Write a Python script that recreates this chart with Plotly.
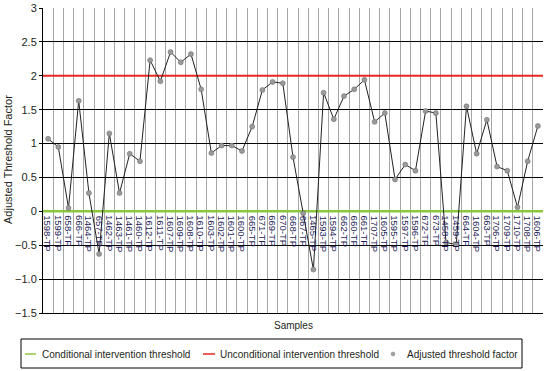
import plotly.graph_objects as go

samples = ["1598-TP", "1599-TP", "658-TP", "666-TP", "1464-TP", "657-TP", "1462-TP", "1463-TP",
           "1461-TP", "1460-TP", "1612-TP", "1611-TP", "1607-TP", "1609-TP", "1608-TP", "1610-TP",
           "1603-TP", "1602-TP", "1601-TP", "1600-TP", "665-TP", "671-TP", "669-TP", "670-TP",
           "668-TP", "667-TP", "1465-TP", "1593-TP", "1594-TP", "662-TP", "660-TP", "661-TP",
           "1707-TP", "1605-TP", "1595-TP", "1597-TP", "1596-TP", "672-TP", "673-TP", "1458-TP",
           "1459-TP", "664-TP", "1604-TP", "663-TP", "1706-TP", "1709-TP", "1710-TP", "1708-TP",
           "1606-TP"]
factor = [1.07, 0.95, 0.05, 1.63, 0.27, -0.63, 1.15, 0.27,
          0.85, 0.74, 2.23, 1.92, 2.35, 2.20, 2.32, 1.80,
          0.86, 0.97, 0.97, 0.89, 1.25, 1.79, 1.91, 1.89,
          0.80, -0.03, -0.86, 1.75, 1.36, 1.70, 1.80, 1.94,
          1.32, 1.45, 0.47, 0.69, 0.60, 1.48, 1.45, -0.46,
          -0.49, 1.55, 0.85, 1.35, 0.66, 0.60, 0.06, 0.74,
          1.26]
conditional_threshold = 0
unconditional_threshold = 2
ytick_vals = [-1.5, -1.0, -0.5, 0, 0.5, 1, 1.5, 2, 2.5, 3]
ytick_text = ["\u22121.5", "\u22121.0", "\u22120.5", "0", "0.5", "1", "1.5", "2", "2.5", "3"]

GREEN = "#8cc63f"
RED = "#e8271e"
FONT = "Liberation Sans, Arial, sans-serif"
TXT = "#231f20"

W, H = 546, 371
L, R, T, B = 43, 3, 8, 58
PW, PH = W - L - R, H - T - B


def px(xp):
    return (xp - L) / PW


def py(yp):
    return (H - B - yp) / PH


idx = list(range(len(samples)))
x_lo, x_hi = idx[0] - 0.5, idx[-1] + 0.5

fig = go.Figure()
fig.add_trace(go.Scatter(x=[x_lo, x_hi], y=[conditional_threshold] * 2, mode="lines",
                         line=dict(color=GREEN, width=2.5),
                         name="Conditional intervention threshold"))
fig.add_trace(go.Scatter(x=[x_lo, x_hi], y=[unconditional_threshold] * 2, mode="lines",
                         line=dict(color=RED, width=2),
                         name="Unconditional intervention threshold"))
fig.add_trace(go.Scatter(x=idx, y=factor, mode="lines", line=dict(color="#222222", width=1),
                         showlegend=False, hoverinfo="skip"))
fig.add_trace(go.Scatter(x=idx, y=factor, mode="markers",
                         marker=dict(color="#9a9a9a", size=5, line=dict(color="#666666", width=0.5)),
                         name="Adjusted threshold factor"))

annotations = []
for i, s in zip(idx, samples):
    annotations.append(dict(x=i, y=0, xref="x", yref="y", text=s, showarrow=False,
                            textangle=90, xanchor="center", yanchor="top", yshift=-2,
                            font=dict(family=FONT, size=9.5, color="#1b1b55")))

# y-axis title
annotations.append(dict(x=px(8), y=py(160), xref="paper", yref="paper", text="Adjusted Threshold Factor",
                        showarrow=False, textangle=-90, xanchor="center", yanchor="middle",
                        font=dict(family=FONT, size=11, color=TXT)))
# x-axis title
annotations.append(dict(x=px(293), y=py(325), xref="paper", yref="paper", text="Samples",
                        showarrow=False, xanchor="center", yanchor="middle",
                        font=dict(family=FONT, size=10, color=TXT)))

# manual legend
leg_y = 354
legend_items = [
    (fig.data[0].name, 40),
    (fig.data[1].name, 218),
    (fig.data[3].name, 405),
]
for name, xt in legend_items:
    annotations.append(dict(x=px(xt), y=py(leg_y), xref="paper", yref="paper", text=name,
                            showarrow=False, xanchor="left", yanchor="middle",
                            font=dict(family=FONT, size=10, color=TXT)))

shapes = [
    dict(type="rect", xref="paper", yref="paper", x0=px(21), x1=px(522), y0=py(368), y1=py(339),
         line=dict(color="black", width=1)),
    dict(type="line", xref="paper", yref="paper", x0=px(25), x1=px(36), y0=py(leg_y), y1=py(leg_y),
         line=dict(color=GREEN, width=1.5)),
    dict(type="line", xref="paper", yref="paper", x0=px(203), x1=px(215), y0=py(leg_y), y1=py(leg_y),
         line=dict(color=RED, width=1.5)),
    dict(type="circle", xref="paper", yref="paper", x0=px(391), x1=px(395), y0=py(leg_y + 2), y1=py(leg_y - 2),
         fillcolor="#a0a0a0", line=dict(color="#909090", width=0.5)),
]

fig.update_layout(
    width=W, height=H,
    margin=dict(l=L, r=R, t=T, b=B),
    paper_bgcolor="white", plot_bgcolor="white",
    font=dict(family=FONT, size=11, color=TXT),
    xaxis=dict(range=[x_lo, x_hi], tickvals=[i + 0.5 for i in idx], showticklabels=False,
               showgrid=True, gridcolor="#a6a6a6", gridwidth=1, zeroline=False,
               showline=True, linecolor="black", linewidth=1, ticks="", automargin=False),
    yaxis=dict(range=[-1.5, 3], tickvals=ytick_vals, ticktext=ytick_text,
               showgrid=True, gridcolor="black", gridwidth=1, zeroline=False,
               showline=True, linecolor="black", linewidth=1, ticks="outside", ticklen=3,
               tickcolor="black", tickfont=dict(size=11, color=TXT), automargin=False),
    showlegend=False,
    hovermode=False,
    annotations=annotations,
    shapes=shapes,
)
fig.write_html("out.html", config={"displayModeBar": False, "staticPlot": True},
               post_script="document.body.style.margin='0';document.body.style.overflow='hidden';")
